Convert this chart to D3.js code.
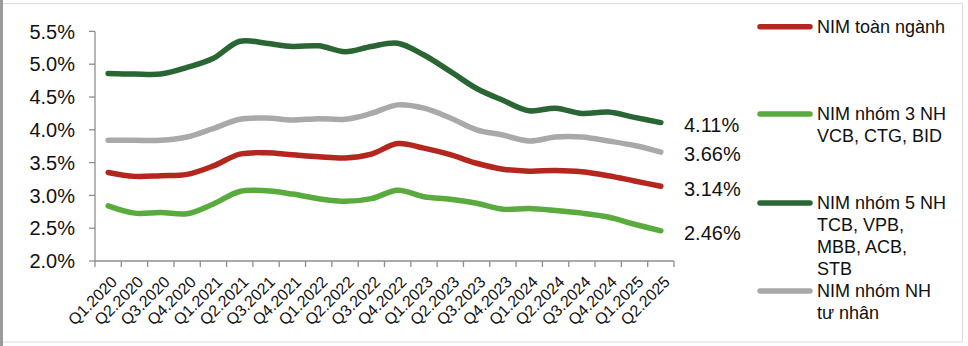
<!DOCTYPE html>
<html>
<head>
<meta charset="utf-8">
<script src="https://cdn.jsdelivr.net/npm/d3@7"></script>
<style>
  html, body { margin: 0; padding: 0; background: #fff; }
  svg { display: block; font-family: Arial, "Liberation Sans", sans-serif; }
</style>
</head>
<body>
<svg id="chart" width="968" height="346"></svg>
<script>
// Quarterly NIM (%) by bank group, Q1.2020 – Q2.2025
const quarters = [
  "Q1.2020", "Q2.2020", "Q3.2020", "Q4.2020", "Q1.2021", "Q2.2021", "Q3.2021", "Q4.2021",
  "Q1.2022", "Q2.2022", "Q3.2022", "Q4.2022", "Q1.2023", "Q2.2023", "Q3.2023", "Q4.2023",
  "Q1.2024", "Q2.2024", "Q3.2024", "Q4.2024", "Q1.2025", "Q2.2025"
];
const nimIndustry = [3.35, 3.29, 3.30, 3.32, 3.45, 3.63, 3.65, 3.62, 3.59, 3.57, 3.63, 3.79,
  3.72, 3.62, 3.49, 3.40, 3.37, 3.38, 3.36, 3.30, 3.22, 3.14];
const nimState3 = [2.84, 2.73, 2.74, 2.72, 2.87, 3.06, 3.07, 3.02, 2.95, 2.91, 2.95, 3.08,
  2.98, 2.94, 2.88, 2.79, 2.80, 2.77, 2.73, 2.67, 2.56, 2.46];
const nimTop5 = [4.86, 4.85, 4.85, 4.95, 5.09, 5.35, 5.32, 5.27, 5.28, 5.19, 5.27, 5.32,
  5.14, 4.89, 4.63, 4.45, 4.29, 4.33, 4.25, 4.27, 4.19, 4.11];
const nimPrivate = [3.84, 3.84, 3.84, 3.89, 4.02, 4.16, 4.18, 4.15, 4.17, 4.16, 4.25, 4.38,
  4.33, 4.18, 4.00, 3.92, 3.83, 3.89, 3.89, 3.83, 3.76, 3.66];
const yTicks = [2.0, 2.5, 3.0, 3.5, 4.0, 4.5, 5.0, 5.5];

const seriesNames = [
  ["NIM toàn ngành"],
  ["NIM nhóm 3 NH", "VCB, CTG, BID"],
  ["NIM nhóm 5 NH", "TCB, VPB,", "MBB, ACB,", "STB"],
  ["NIM nhóm NH", "tư nhân"]
];
const seriesColors = ["#b3271e", "#5aab3d", "#2a6534", "#a9a9a9"];
const seriesValues = [nimIndustry, nimState3, nimTop5, nimPrivate];

const svg = d3.select("#chart");

// outer frame
svg.append("rect").attr("x", 2.5).attr("y", 3.5).attr("width", 960).attr("height", 338.5)
  .attr("fill", "#fff").attr("stroke", "#dcdcdc").attr("stroke-width", 1);
svg.append("rect").attr("x", 0).attr("y", 0).attr("width", 3).attr("height", 346)
  .attr("fill", "#9b9b9b");

const x = d3.scaleBand().domain(quarters).range([95, 674]);
const y = d3.scaleLinear().domain([2, 5.5]).range([261, 31.4]);
const xc = q => x(q) + x.bandwidth() / 2;

const axisColor = "#8e8e8e";

// y axis
const gy = svg.append("g");
gy.append("line").attr("x1", 95).attr("x2", 95).attr("y1", y(5.5)).attr("y2", y(2))
  .attr("stroke", axisColor).attr("stroke-width", 1.3);
gy.selectAll("line.tick").data(yTicks).join("line").attr("class", "tick")
  .attr("x1", 89).attr("x2", 95).attr("y1", d => y(d)).attr("y2", d => y(d))
  .attr("stroke", axisColor).attr("stroke-width", 1.3);
gy.selectAll("text").data(yTicks).join("text")
  .attr("x", 75).attr("y", d => y(d)).attr("dy", "0.36em")
  .attr("text-anchor", "end").attr("font-size", 20).attr("fill", "#111")
  .text(d => d3.format(".1f")(d) + "%");

// x axis
const gx = svg.append("g");
gx.append("line").attr("x1", 95).attr("x2", 674).attr("y1", y(2)).attr("y2", y(2))
  .attr("stroke", axisColor).attr("stroke-width", 1.3);
const bounds = quarters.map(q => x(q)).concat([x(quarters[quarters.length - 1]) + x.bandwidth()]);
gx.selectAll("line.tick").data(bounds).join("line").attr("class", "tick")
  .attr("x1", d => d).attr("x2", d => d).attr("y1", y(2)).attr("y2", y(2) + 6)
  .attr("stroke", axisColor).attr("stroke-width", 1.3);
gx.selectAll("text").data(quarters).join("text")
  .attr("transform", q => `translate(${xc(q) + 2},${y(2) + 14}) rotate(-45)`)
  .attr("text-anchor", "end").attr("dy", "0.7em").attr("font-size", 16).attr("fill", "#111")
  .text(q => q);

// smoothed lines
const line = d3.line()
  .x((d, i) => xc(quarters[i]))
  .y(d => y(d))
  .curve(d3.curveCatmullRom.alpha(0.5));

// draw order: private, top5, industry, state3
[3, 2, 0, 1].forEach(k => {
  svg.append("path").datum(seriesValues[k]).attr("d", line)
    .attr("fill", "none").attr("stroke", seriesColors[k]).attr("stroke-width", 5.5)
    .attr("stroke-linecap", "round").attr("stroke-linejoin", "round");
});

// end-of-line value labels
const endLabelY = [188.3, 233, 125, 153.3];
seriesValues.forEach((vals, k) => {
  const v = vals[vals.length - 1];
  svg.append("text").attr("x", 684).attr("y", endLabelY[k]).attr("dy", "0.36em")
    .attr("font-size", 20).attr("fill", "#111")
    .text(d3.format(".2f")(v) + "%");
});

// legend
const legendY = [26.7, 114, 203, 291];
const lg = svg.append("g");
seriesNames.forEach((lines, k) => {
  const g = lg.append("g");
  g.append("line").attr("x1", 760).attr("x2", 810).attr("y1", legendY[k]).attr("y2", legendY[k])
    .attr("stroke", seriesColors[k]).attr("stroke-width", 5.5).attr("stroke-linecap", "round");
  g.selectAll("text").data(lines).join("text")
    .attr("x", 817).attr("y", (d, i) => legendY[k] + i * 21.7).attr("dy", "0.36em")
    .attr("font-size", 18).attr("fill", "#111")
    .text(d => d);
});
</script>
</body>
</html>
